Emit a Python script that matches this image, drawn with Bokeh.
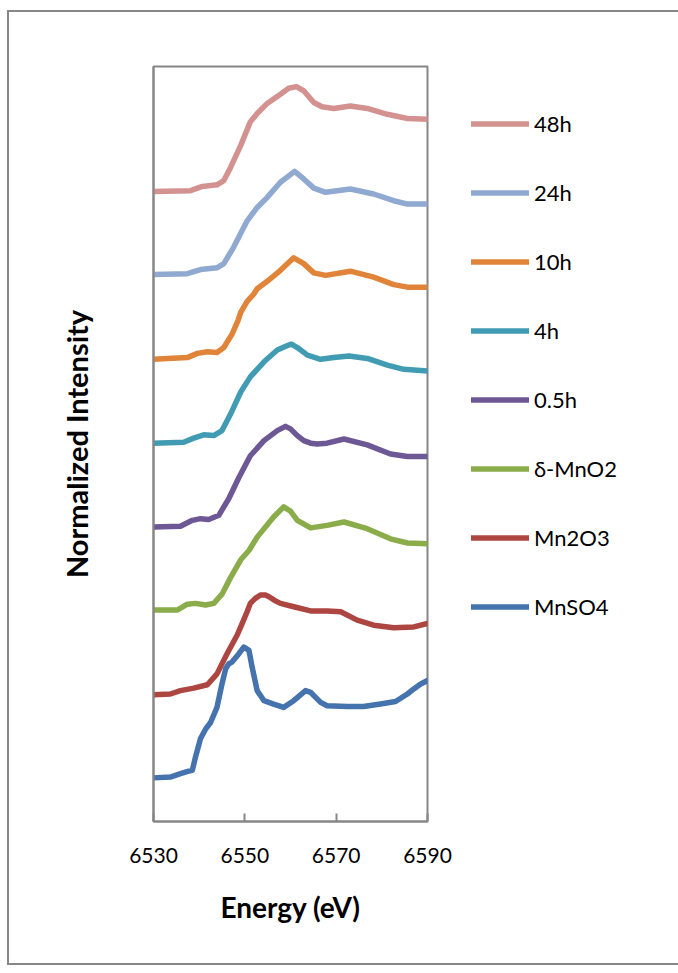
from bokeh.plotting import figure
from bokeh.models import Range1d, FixedTicker, Legend, LegendItem
from bokeh.embed import file_html
from bokeh.resources import INLINE

# Mn K-edge XANES, normalized and stacked one unit apart
energy_ticks = [6530, 6550, 6570, 6590]

e_mnso4 = [6530, 6533.7, 6535.9, 6537.7, 6538.5, 6539.2, 6540.3, 6541.4, 6542.5, 6543.9,
           6545.0, 6545.8, 6546.5, 6547.2, 6548.7, 6549.8, 6550.9, 6551.6, 6552.7, 6554.2,
           6556.3, 6558.5, 6560.7, 6562.0, 6563.3, 6564.4, 6565.5, 6566.6, 6568.0, 6572.4,
           6576.0, 6579.7, 6583.0, 6585.6, 6587.0, 6588.5, 6590]
i_mnso4 = [0.52, 0.53, 0.57, 0.60, 0.61, 0.77, 0.99, 1.10, 1.18, 1.36,
           1.64, 1.82, 1.88, 1.90, 2.00, 2.08, 2.04, 1.84, 1.56, 1.44,
           1.40, 1.36, 1.44, 1.50, 1.56, 1.54, 1.48, 1.42, 1.38, 1.37,
           1.37, 1.40, 1.43, 1.52, 1.58, 1.64, 1.68]

e_mn2o3 = [6530, 6533.7, 6535.9, 6538.8, 6541.8, 6543.9, 6546.1, 6548.3, 6549.1, 6550.5,
           6551.2, 6552.3, 6553.4, 6554.5, 6555.3, 6556.7, 6557.8, 6560.7, 6564.4, 6568.0,
           6571.0, 6574.6, 6578.2, 6582.6, 6587.0, 6590]
i_mn2o3 = [1.51, 1.52, 1.56, 1.59, 1.63, 1.76, 2.00, 2.22, 2.32, 2.50,
           2.60, 2.66, 2.70, 2.70, 2.68, 2.63, 2.60, 2.56, 2.51, 2.51,
           2.50, 2.40, 2.34, 2.31, 2.32, 2.36]

e_dmno2 = [6530, 6535.2, 6537.4, 6539.2, 6541.4, 6543.2, 6545.0, 6546.9, 6549.1, 6550.9,
           6552.7, 6556.3, 6558.5, 6560.0, 6561.5, 6564.4, 6568.0, 6571.7, 6576.8, 6581.9,
           6585.6, 6590]
i_dmno2 = [2.52, 2.52, 2.59, 2.60, 2.58, 2.60, 2.71, 2.91, 3.12, 3.23,
           3.39, 3.63, 3.75, 3.70, 3.59, 3.50, 3.53, 3.57, 3.49, 3.37,
           3.32, 3.31]

e_05h = [6530, 6535.9, 6538.5, 6540.3, 6542.1, 6544.3, 6546.5, 6548.7, 6551.2, 6554.2,
         6557.1, 6558.9, 6560.0, 6561.5, 6562.9, 6564.4, 6565.8, 6568.0, 6571.7, 6576.8,
         6581.9, 6585.6, 6590]
i_05h = [3.51, 3.52, 3.59, 3.61, 3.60, 3.65, 3.85, 4.10, 4.36, 4.54,
         4.66, 4.71, 4.68, 4.60, 4.54, 4.51, 4.50, 4.51, 4.56, 4.49,
         4.38, 4.35, 4.35]

e_4h = [6530, 6536.6, 6538.8, 6541.0, 6543.2, 6545.0, 6546.9, 6549.1, 6551.2, 6554.2,
        6557.1, 6559.6, 6560.2, 6561.5, 6563.7, 6566.6, 6569.5, 6572.8, 6576.8, 6581.2,
        6584.8, 6590]
i_4h = [4.51, 4.52, 4.57, 4.61, 4.60, 4.66, 4.86, 5.12, 5.30, 5.48,
        5.62, 5.68, 5.69, 5.65, 5.56, 5.51, 5.53, 5.55, 5.52, 5.44,
        5.39, 5.37]

e_10h = [6530, 6537.4, 6539.6, 6541.8, 6543.9, 6545.4, 6547.2, 6548.5, 6549.1, 6550.5,
         6552.0, 6552.7, 6554.9, 6557.8, 6560.7, 6562.9, 6565.1, 6567.7, 6573.1, 6578.2,
         6582.6, 6585.6, 6590]
i_10h = [5.51, 5.53, 5.58, 5.60, 5.59, 5.65, 5.81, 5.97, 6.07, 6.20,
         6.29, 6.35, 6.44, 6.57, 6.72, 6.65, 6.54, 6.51, 6.56, 6.49,
         6.40, 6.37, 6.37]

e_24h = [6530, 6537.4, 6540.3, 6543.9, 6545.4, 6547.6, 6550.5, 6552.7, 6554.9, 6557.8,
         6560.9, 6562.9, 6565.1, 6567.7, 6573.1, 6578.2, 6582.6, 6585.6, 6590]
i_24h = [6.52, 6.53, 6.58, 6.60, 6.65, 6.85, 7.16, 7.32, 7.44, 7.62,
         7.75, 7.66, 7.55, 7.50, 7.54, 7.48, 7.40, 7.36, 7.36]

e_48h = [6530, 6538.1, 6540.7, 6543.9, 6545.4, 6546.9, 6549.1, 6551.2, 6552.7, 6554.9,
         6557.8, 6559.6, 6561.3, 6562.9, 6565.1, 6566.9, 6569.5, 6573.1, 6576.8, 6581.2,
         6585.6, 6590]
i_48h = [7.51, 7.52, 7.57, 7.59, 7.64, 7.80, 8.06, 8.34, 8.44, 8.56,
         8.67, 8.74, 8.76, 8.71, 8.57, 8.52, 8.50, 8.53, 8.50, 8.43,
         8.38, 8.37]

# legend order, top to bottom
series = [
    ("48h", e_48h, i_48h, "#D39290"),
    ("24h", e_24h, i_24h, "#8FA9D1"),
    ("10h", e_10h, i_10h, "#E0843A"),
    ("4h", e_4h, i_4h, "#419CB3"),
    ("0.5h", e_05h, i_05h, "#6D5895"),
    ("δ-MnO2", e_dmno2, i_dmno2, "#8BAC4B"),
    ("Mn2O3", e_mn2o3, i_mn2o3, "#AD4641"),
    ("MnSO4", e_mnso4, i_mnso4, "#4573AD"),
]

FONT = "Lato"
GREY = "#868686"

p = figure(frame_width=274, frame_height=755,
           x_range=Range1d(6530, 6590), y_range=Range1d(0, 9),
           output_backend="svg", toolbar_location=None,
           min_border_left=144, min_border_right=242,
           min_border_top=54, min_border_bottom=142)
p.margin = (12, 0, 0, 9)
p.styles = {"outline": "2px solid #878787"}

p.background_fill_color = "white"
p.border_fill_color = "white"
p.outline_line_color = GREY
p.outline_line_width = 2
p.grid.visible = False

xa = p.xaxis[0]
xa.ticker = FixedTicker(ticks=energy_ticks)
xa.minor_tick_line_color = None
xa.major_tick_in = 8
xa.major_tick_out = 0
xa.major_tick_line_color = GREY
xa.major_tick_line_width = 2
xa.axis_line_color = GREY
xa.axis_line_width = 2
xa.major_label_text_font = FONT
xa.major_label_text_font_size = "21px"
xa.major_label_text_color = "black"
xa.major_label_standoff = 26
xa.axis_label = "Energy (eV)"
xa.axis_label_text_font = FONT
xa.axis_label_text_font_size = "28px"
xa.axis_label_text_font_style = "bold"
xa.axis_label_text_color = "black"
xa.axis_label_standoff = 24

ya = p.yaxis[0]
ya.ticker = FixedTicker(ticks=[])
ya.minor_tick_line_color = None
ya.major_tick_line_color = None
ya.axis_line_color = GREY
ya.axis_line_width = 2
ya.axis_label = "Normalized Intensity"
ya.axis_label_text_font = FONT
ya.axis_label_text_font_size = "29px"
ya.axis_label_text_font_style = "bold"
ya.axis_label_text_color = "black"
ya.axis_label_standoff = 60

items = []
for name, xs, ys, color in series:
    r = p.line(xs, ys, line_color=color, line_width=5.5,
               line_join="round", line_cap="round")
    items.append(LegendItem(label=name, renderers=[r]))

# legend sits in the right-hand panel beside the plot frame
legend = Legend(items=items, location="top_left",
                glyph_width=58, glyph_height=25, label_height=25,
                label_standoff=5, spacing=42, padding=0, margin=44,
                border_line_color=None, background_fill_alpha=0,
                label_text_font=FONT, label_text_font_size="22px",
                label_text_color="black")
p.add_layout(legend, "right")

open("out.html", "w").write(file_html(p, INLINE))
